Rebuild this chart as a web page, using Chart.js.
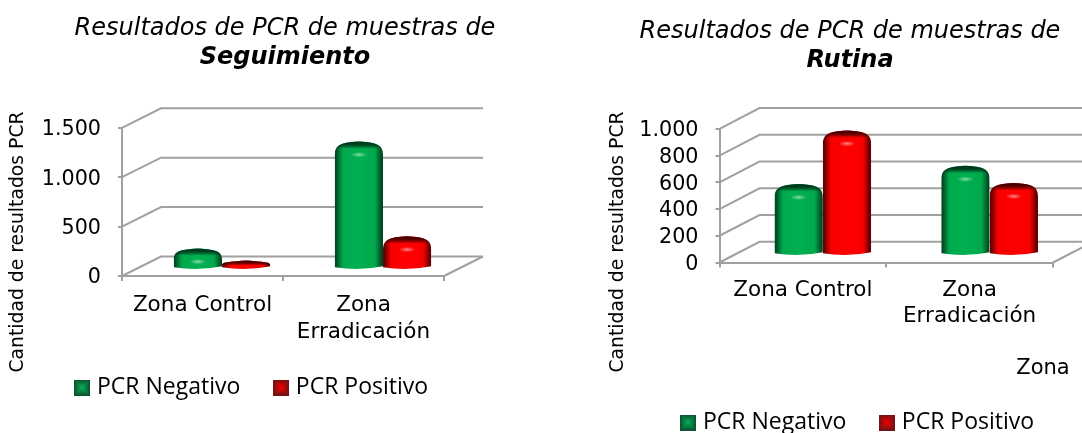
<!DOCTYPE html>
<html>
<head>
<meta charset="utf-8">
<title>Resultados de PCR</title>
<script src="https://cdn.jsdelivr.net/npm/chart.js@4"></script>
<style>
html, body { margin: 0; background: #fff; overflow: hidden; width: 1082px; height: 433px; }
canvas { position: absolute; top: 0; }
#chartSeguimiento { left: 0; }
#chartRutina { left: 590px; }
</style>
</head>
<body>
<canvas id="chartSeguimiento" width="570" height="433"></canvas>
<canvas id="chartRutina" width="520" height="433"></canvas>
<script>
const categories = ['Zona Control', ['Zona', 'Erradicación']];
const seriesNames = ['PCR Negativo', 'PCR Positivo'];
const seguimientoNegativo = [148, 1230];
const seguimientoPositivo = [25, 270];
const rutinaNegativo = [485, 621];
const rutinaPositivo = [886, 492];
const axisTitle = 'Cantidad de resultados PCR';
const titleLine = 'Resultados de PCR de muestras de';

const MAIN_FONT = '"DejaVu Sans", Verdana, sans-serif';
const LEGEND_FONT = '"Open Sans", "Noto Sans", sans-serif';
const GRID = '#a0a0a0';

// pyramid style swatch for the legend, concentric squares from edge to middle
function swatch(edge, mid) {
    const c = document.createElement('canvas');
    c.width = 16;
    c.height = 16;
    const g = c.getContext('2d');
    for (let i = 0; i < 8; i++) {
        const t = i / 7;
        const rgb = edge.map((v, k) => Math.round(v + (mid[k] - v) * t));
        g.fillStyle = `rgb(${rgb.join(',')})`;
        g.fillRect(i, i, 16 - 2 * i, 16 - 2 * i);
    }
    return c;
}

const palette = [
    { mid: '#00b050', light: '#00a94c', edge: '#004a24', cap: '#003a1c', swatch: swatch([12, 84, 50], [8, 170, 84]) },
    { mid: '#ff0000', light: '#f80000', edge: '#650000', cap: '#4a0000', swatch: swatch([110, 20, 20], [240, 0, 0]) }
];

function drawCylinder(ctx, x, width, top, base, colors) {
    const left = x - width / 2;
    const right = x + width / 2;
    const y0 = top - 3;
    const y1 = base + 4;
    const ry = Math.min(13, (y1 - y0) / 2);
    const rx = 15;
    ctx.save();
    ctx.beginPath();
    ctx.moveTo(left, y1 - 2);
    ctx.lineTo(left, y0 + ry);
    ctx.bezierCurveTo(left, y0 + ry * 0.35, left + rx * 0.35, y0 + 1.5, left + rx, y0 + 0.5);
    ctx.quadraticCurveTo(x, y0 - 1, right - rx, y0 + 0.5);
    ctx.bezierCurveTo(right - rx * 0.35, y0 + 1.5, right, y0 + ry * 0.35, right, y0 + ry);
    ctx.lineTo(right, y1 - 3);
    ctx.quadraticCurveTo(x, y1 + 2, left, y1 - 2);
    ctx.closePath();
    ctx.clip();

    const h = ctx.createLinearGradient(left, 0, right, 0);
    h.addColorStop(0, colors.edge);
    h.addColorStop(0.03, colors.edge);
    h.addColorStop(0.17, colors.light);
    h.addColorStop(0.5, colors.mid);
    h.addColorStop(0.83, colors.light);
    h.addColorStop(0.97, colors.edge);
    h.addColorStop(1, colors.edge);
    ctx.fillStyle = h;
    ctx.fillRect(left, y0 - 2, width, y1 - y0 + 6);

    // dark crescent on the top of the bar
    const capH = Math.min(7, (y1 - y0) * 0.55);
    const v = ctx.createLinearGradient(0, y0, 0, y0 + capH);
    v.addColorStop(0, colors.cap);
    v.addColorStop(0.3, colors.cap);
    v.addColorStop(1, 'rgba(0,0,0,0)');
    ctx.fillStyle = v;
    ctx.fillRect(left, y0 - 2, width, capH + 2);

    if (y1 - y0 > 16) {
        const spot = ctx.createRadialGradient(0, 0, 0, 0, 0, 7);
        spot.addColorStop(0, 'rgba(255,255,255,0.55)');
        spot.addColorStop(0.4, 'rgba(255,255,255,0.3)');
        spot.addColorStop(1, 'rgba(255,255,255,0)');
        ctx.translate(x, y0 + 13);
        ctx.scale(1.2, 0.4);
        ctx.fillStyle = spot;
        ctx.fillRect(-8, -8, 16, 16);
    }
    ctx.restore();
}

const fakeDepth = {
    id: 'fakeDepth',
    afterLayout(chart, args, opts) {
        const legend = chart.legend;
        legend.left = opts.legendLeft;
        legend.right = chart.width;
        const h = legend.height;
        legend.top = opts.legendTop;
        legend.bottom = legend.top + h;
        // title and subtitle are centred on their own spot, not on the plot
        chart.boxes.forEach(box => {
            if (box.options && box.options.text !== undefined) {
                box.left = 0;
                box.right = opts.titleCenter * 2;
                box.width = box.right;
            }
        });
    },
    beforeDatasetsDraw(chart, args, opts) {
        const { ctx, chartArea, scales } = chart;
        const { dx, dy } = opts;
        ctx.save();
        ctx.strokeStyle = GRID;
        ctx.lineWidth = 2;
        scales.y.ticks.forEach(t => {
            const y = scales.y.getPixelForValue(t.value);
            ctx.beginPath();
            ctx.moveTo(chartArea.left, y);
            ctx.lineTo(chartArea.left + dx, y - dy);
            ctx.lineTo(chartArea.right + dx, y - dy);
            ctx.stroke();
        });
        ctx.beginPath();
        ctx.moveTo(chartArea.right, chartArea.bottom);
        ctx.lineTo(chartArea.right + dx, chartArea.bottom - dy);
        ctx.stroke();
        ctx.restore();
    },
    beforeDatasetDraw(chart, args, opts) {
        const { ctx } = chart;
        args.meta.data.forEach(bar => {
            const p = bar.getProps(['x', 'y', 'base', 'width']);
            drawCylinder(ctx, p.x + opts.dx / 2, p.width, p.y - opts.dy / 2, p.base - opts.dy / 2, palette[args.index]);
        });
        return false;
    },
    afterDraw(chart, args, opts) {
        const { ctx } = chart;
        ctx.save();
        ctx.fillStyle = '#000';
        ctx.font = '18.8px ' + MAIN_FONT;
        ctx.textAlign = 'center';
        ctx.textBaseline = 'middle';
        ctx.translate(opts.yTitleX, opts.yTitleY);
        ctx.rotate(-Math.PI / 2);
        ctx.fillText(axisTitle, 0, 0);
        ctx.restore();
        if (opts.xTitle) {
            ctx.save();
            ctx.fillStyle = '#000';
            ctx.font = '21px ' + MAIN_FONT;
            ctx.textAlign = 'center';
            ctx.textBaseline = 'middle';
            ctx.fillText(opts.xTitle, opts.xTitleX, opts.xTitleY);
            ctx.restore();
        }
    }
};

function makeChart(id, cfg) {
    return new Chart(document.getElementById(id), {
        type: 'bar',
        data: {
            labels: categories,
            datasets: [
                { label: seriesNames[0], data: cfg.negativo, backgroundColor: palette[0].mid },
                { label: seriesNames[1], data: cfg.positivo, backgroundColor: palette[1].mid }
            ]
        },
        plugins: [fakeDepth],
        options: {
            responsive: false,
            animation: false,
            layout: { padding: { left: 0, right: cfg.padRight, top: 0, bottom: 0 } },
            datasets: { bar: { categoryPercentage: cfg.catPct, barPercentage: 1 } },
            plugins: {
                title: {
                    display: true,
                    text: titleLine,
                    color: '#000',
                    font: { family: MAIN_FONT, size: 24, style: 'italic', weight: 'normal', lineHeight: 1.2 },
                    padding: { top: cfg.titleTop, bottom: 0 }
                },
                subtitle: {
                    display: true,
                    text: cfg.subtitle,
                    color: '#000',
                    font: { family: MAIN_FONT, size: 24, style: 'italic', weight: 'bold', lineHeight: 1.2 },
                    padding: { top: 0.2, bottom: cfg.subBottom }
                },
                legend: {
                    position: 'bottom',
                    align: 'start',
                    labels: {
                        usePointStyle: true,
                        pointStyleWidth: 7,
                        padding: 37,
                        color: '#000',
                        font: { family: LEGEND_FONT, size: 23, lineHeight: 1.2 },
                        generateLabels(chart) {
                            const items = Chart.defaults.plugins.legend.labels.generateLabels(chart);
                            items.forEach((item, i) => { item.pointStyle = palette[i].swatch; });
                            return items;
                        }
                    }
                },
                tooltip: { enabled: false },
                fakeDepth: cfg.depth
            },
            scales: {
                x: {
                    afterFit(scale) { scale.height = cfg.xHeight; },
                    grid: { drawOnChartArea: false, color: GRID, lineWidth: 2, tickLength: 5 },
                    border: { color: GRID, width: 2 },
                    ticks: {
                        color: '#000',
                        maxRotation: 0,
                        autoSkip: false,
                        padding: cfg.xPad,
                        font: { family: MAIN_FONT, size: 21.5, lineHeight: 1.25 }
                    }
                },
                y: {
                    min: 0,
                    max: cfg.yMax,
                    afterFit(scale) { scale.width = cfg.yWidth; },
                    grid: { drawOnChartArea: false, color: GRID, lineWidth: 2, tickLength: 4 },
                    border: { color: GRID, width: 2 },
                    ticks: {
                        stepSize: cfg.yStep,
                        autoSkip: false,
                        labelOffset: 2,
                        color: '#000',
                        padding: cfg.yPad,
                        font: { family: MAIN_FONT, size: 20.7 },
                        callback: v => String(v).replace(/\B(?=(\d{3})+$)/g, '.')
                    }
                }
            }
        }
    });
}

makeChart('chartSeguimiento', {
    negativo: seguimientoNegativo,
    positivo: seguimientoPositivo,
    subtitle: 'Seguimiento',
    padRight: 126,
    catPct: 0.6,
    titleTop: 14.6,
    subBottom: 55.4,
    xHeight: 87,
    xPad: 11,
    yMax: 1500,
    yStep: 500,
    yWidth: 122,
    yPad: 17,
    depth: { dx: 39, dy: 19.5, legendLeft: 41.5, legendTop: 339, yTitleX: 18, yTitleY: 242, titleCenter: 285 }
});

makeChart('chartRutina', {
    negativo: rutinaNegativo,
    positivo: rutinaPositivo,
    subtitle: 'Rutina',
    padRight: 57,
    catPct: 0.58,
    titleTop: 17.6,
    subBottom: 53.4,
    xHeight: 100.5,
    xPad: 9,
    yMax: 1000,
    yStep: 200,
    yWidth: 129.5,
    yPad: 17,
    depth: { dx: 40, dy: 20.7, legendLeft: 57.5, legendTop: 374, yTitleX: 28, yTitleY: 242, titleCenter: 260, xTitle: 'Zona', xTitleX: 453, xTitleY: 369 }
});
</script>
</body>
</html>
